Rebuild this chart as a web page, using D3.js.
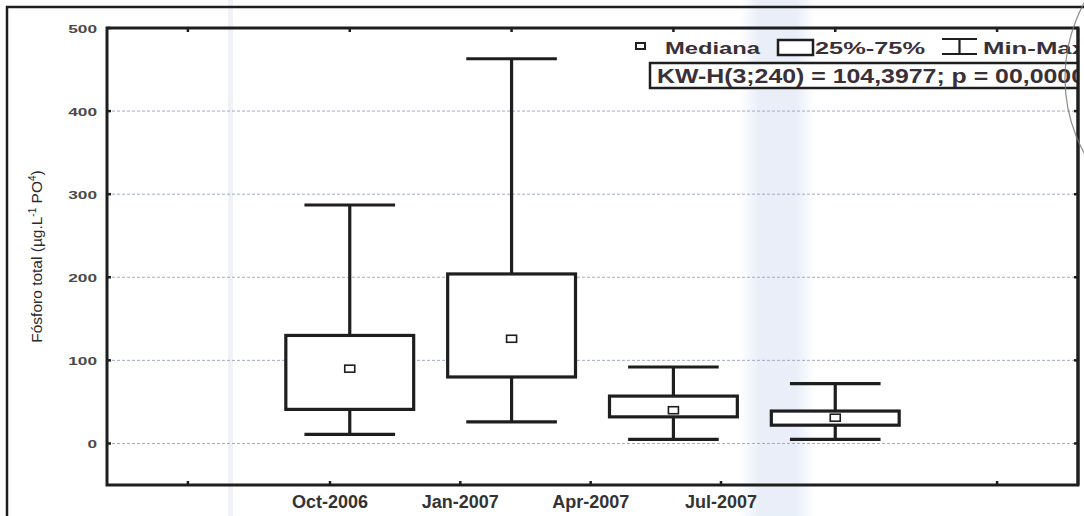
<!DOCTYPE html>
<html>
<head>
<meta charset="utf-8">
<script src="https://cdn.jsdelivr.net/npm/d3@7"></script>
<style>
  html, body { margin: 0; padding: 0; background: #fff; }
  svg { display: block; }
  text { font-family: "Liberation Sans", Arial, sans-serif; }
</style>
</head>
<body>
<svg id="chart" width="1084" height="516"></svg>
<script>
// Total phosphorus per sampling campaign (box = 25%-75%, whiskers = min-max)
const categories = ["Oct-2006", "Jan-2007", "Apr-2007", "Jul-2007"];
const minVals    = [11, 26, 5, 5];
const q1Vals     = [41, 80, 32, 22];
const medianVals = [90, 126, 40, 31];
const q3Vals     = [130, 204, 57, 39];
const maxVals    = [287, 463, 92, 72];
const yTickVals  = [0, 100, 200, 300, 400, 500];
const gridVals   = [0, 100, 200, 300, 400];
const legendLabels = ["Mediana", "25%-75%", "Min-Max"];
const statText = "KW-H(3;240) = 104,3977; p = 00,0000";

const W = 1084, H = 516;
const plot = { left: 107, top: 28, right: 1078, bottom: 485 };
const svg = d3.select("#chart");
const ink = "#1e1e1e";

// paper tint of the scanned page
const defs = svg.append("defs");
const band = defs.append("linearGradient").attr("id", "band").attr("x1", 0).attr("x2", 1).attr("y1", 0).attr("y2", 0);
band.append("stop").attr("offset", "0%").attr("stop-color", "#d3def2").attr("stop-opacity", 0);
band.append("stop").attr("offset", "25%").attr("stop-color", "#d3def2").attr("stop-opacity", 0.5);
band.append("stop").attr("offset", "75%").attr("stop-color", "#d3def2").attr("stop-opacity", 0.5);
band.append("stop").attr("offset", "100%").attr("stop-color", "#d3def2").attr("stop-opacity", 0);
svg.append("rect").attr("x", 740).attr("y", 0).attr("width", 75).attr("height", H).attr("fill", "url(#band)");
svg.append("rect").attr("x", 228).attr("y", 0).attr("width", 5).attr("height", H).attr("fill", "#e9edf5").attr("opacity", 0.7);

defs.append("clipPath").attr("id", "plotClip")
  .append("rect").attr("x", plot.left).attr("y", 0).attr("width", plot.right - plot.left).attr("height", plot.bottom);

// scales
const y = d3.scaleLinear().domain([-50, 500]).range([plot.bottom, plot.top]);
const slots = d3.range(categories.length + 2);
const x = d3.scaleBand().domain(slots).range([plot.left, plot.right]).padding(0);
const xc = i => x(i) + x.bandwidth() / 2;
const xLabel = d3.scalePoint().domain(categories).range([330, 721]);

// outer frame of the figure
svg.append("path")
  .attr("d", `M7,${H} L7,7 L${W},7`)
  .attr("fill", "none").attr("stroke", ink).attr("stroke-width", 2.5);

// dotted grid
svg.append("g").selectAll("line").data(gridVals).join("line")
  .attr("x1", plot.left).attr("x2", plot.right)
  .attr("y1", d => y(d)).attr("y2", d => y(d))
  .attr("stroke", "#a3abc6").attr("stroke-width", 1).attr("stroke-dasharray", "3,2");

// y tick labels
svg.append("g").selectAll("text").data(yTickVals).join("text")
  .attr("x", plot.left - 10).attr("y", d => y(d) + 4.5)
  .attr("text-anchor", "end")
  .attr("font-size", 11.5).attr("font-weight", "bold").attr("fill", "#4a4a4a")
  .attr("textLength", d => String(d).length * 9.6)
  .attr("lengthAdjust", "spacingAndGlyphs")
  .text(d => d);

// y axis title
const yTitle = svg.append("text")
  .attr("transform", `translate(42,${(plot.top + plot.bottom) / 2}) rotate(-90)`)
  .attr("text-anchor", "middle")
  .attr("font-size", 15.5).attr("fill", "#2a2a2a");
yTitle.append("tspan").text("Fósforo total (µg.L");
yTitle.append("tspan").attr("font-size", 10).attr("dy", -6).text("-1");
yTitle.append("tspan").attr("dy", 6).text(" PO");
yTitle.append("tspan").attr("font-size", 10).attr("dy", -6).text("4");
yTitle.append("tspan").attr("dy", 6).text(")");

// boxes
const data = categories.map((c, i) => ({
  c, slot: i + 1, min: minVals[i], q1: q1Vals[i], med: medianVals[i], q3: q3Vals[i], max: maxVals[i]
}));
const boxW = x.bandwidth() * 0.79, capW = x.bandwidth() * 0.56;
const g = svg.append("g").attr("stroke", ink).attr("fill", "none").attr("stroke-width", 3.2);
const item = g.selectAll("g").data(data).join("g");
item.append("line").attr("x1", d => xc(d.slot)).attr("x2", d => xc(d.slot))
  .attr("y1", d => y(d.max)).attr("y2", d => y(d.q3));
item.append("line").attr("x1", d => xc(d.slot)).attr("x2", d => xc(d.slot))
  .attr("y1", d => y(d.q1)).attr("y2", d => y(d.min));
item.append("line").attr("x1", d => xc(d.slot) - capW / 2).attr("x2", d => xc(d.slot) + capW / 2)
  .attr("y1", d => y(d.max)).attr("y2", d => y(d.max));
item.append("line").attr("x1", d => xc(d.slot) - capW / 2).attr("x2", d => xc(d.slot) + capW / 2)
  .attr("y1", d => y(d.min)).attr("y2", d => y(d.min));
item.append("rect").attr("x", d => xc(d.slot) - boxW / 2).attr("width", boxW)
  .attr("y", d => y(d.q3)).attr("height", d => y(d.q1) - y(d.q3))
  .attr("fill", "#fff");
item.append("rect").attr("x", d => xc(d.slot) - 5).attr("width", 10)
  .attr("y", d => y(d.med) - 3.5).attr("height", 7)
  .attr("fill", "#fff").attr("stroke-width", 1.6);

// plot frame and tick marks
svg.append("rect")
  .attr("x", plot.left).attr("y", plot.top)
  .attr("width", plot.right - plot.left).attr("height", plot.bottom - plot.top)
  .attr("fill", "none").attr("stroke", ink).attr("stroke-width", 3);
const ticks = svg.append("g").attr("stroke", ink).attr("stroke-width", 2.5);
ticks.selectAll(".yl").data(yTickVals).join("line")
  .attr("x1", plot.left).attr("x2", plot.left + 4).attr("y1", d => y(d)).attr("y2", d => y(d));
ticks.selectAll(".yr").data(yTickVals).join("line").attr("class", "yr")
  .attr("x1", plot.right - 4).attr("x2", plot.right).attr("y1", d => y(d)).attr("y2", d => y(d));
ticks.selectAll(".xt").data(slots).join("line").attr("class", "xt")
  .attr("x1", d => xc(d)).attr("x2", d => xc(d)).attr("y1", plot.top).attr("y2", plot.top + 4);
ticks.selectAll(".xb").data([xc(0), xc(slots.length - 1)].concat(categories.map(c => xLabel(c))))
  .join("line").attr("class", "xb")
  .attr("x1", d => d).attr("x2", d => d).attr("y1", plot.bottom - 4).attr("y2", plot.bottom);

// category labels
svg.append("g").selectAll("text").data(categories).join("text")
  .attr("x", d => xLabel(d)).attr("y", 508)
  .attr("text-anchor", "middle")
  .attr("font-size", 18).attr("font-weight", "bold").attr("fill", "#333")
  .text(d => d);

// legend
const leg = svg.append("g").attr("clip-path", "url(#plotClip)");
const legInk = "#3a3038";
leg.append("rect").attr("x", 636).attr("y", 43).attr("width", 9).attr("height", 6)
  .attr("fill", "#fff").attr("stroke", ink).attr("stroke-width", 2);
leg.append("text").attr("x", 665).attr("y", 54).attr("font-size", 16).attr("font-weight", "bold")
  .attr("fill", legInk).attr("textLength", 95).attr("lengthAdjust", "spacingAndGlyphs").text(legendLabels[0]);
leg.append("rect").attr("x", 778).attr("y", 40).attr("width", 35).attr("height", 15)
  .attr("fill", "#fff").attr("stroke", ink).attr("stroke-width", 2.5);
leg.append("text").attr("x", 815).attr("y", 54).attr("font-size", 16).attr("font-weight", "bold")
  .attr("fill", legInk).attr("textLength", 110).attr("lengthAdjust", "spacingAndGlyphs").text(legendLabels[1]);
leg.append("path").attr("d", "M942,39 H977 M959.5,39 V54 M942,54 H977")
  .attr("fill", "none").attr("stroke", ink).attr("stroke-width", 2.2);
leg.append("text").attr("x", 983).attr("y", 54).attr("font-size", 16).attr("font-weight", "bold")
  .attr("fill", legInk).attr("textLength", 103).attr("lengthAdjust", "spacingAndGlyphs").text(legendLabels[2]);

// test statistic box
leg.append("rect").attr("x", 650).attr("y", 63).attr("width", 428).attr("height", 25)
  .attr("fill", "#fff").attr("stroke", ink).attr("stroke-width", 2.5);
leg.append("text").attr("x", 657).attr("y", 83).attr("font-size", 20).attr("font-weight", "bold")
  .attr("fill", legInk).attr("textLength", 428).attr("lengthAdjust", "spacingAndGlyphs").text(statText);

// right border repainted over the legend
svg.append("line").attr("x1", plot.right).attr("x2", plot.right).attr("y1", plot.top).attr("y2", plot.bottom)
  .attr("stroke", ink).attr("stroke-width", 3);

// stamp ring at the right edge
svg.append("circle").attr("cx", 1222).attr("cy", 78).attr("r", 157)
  .attr("fill", "none").attr("stroke", "#777").attr("stroke-width", 1.3).attr("opacity", 0.8);
</script>
</body>
</html>
